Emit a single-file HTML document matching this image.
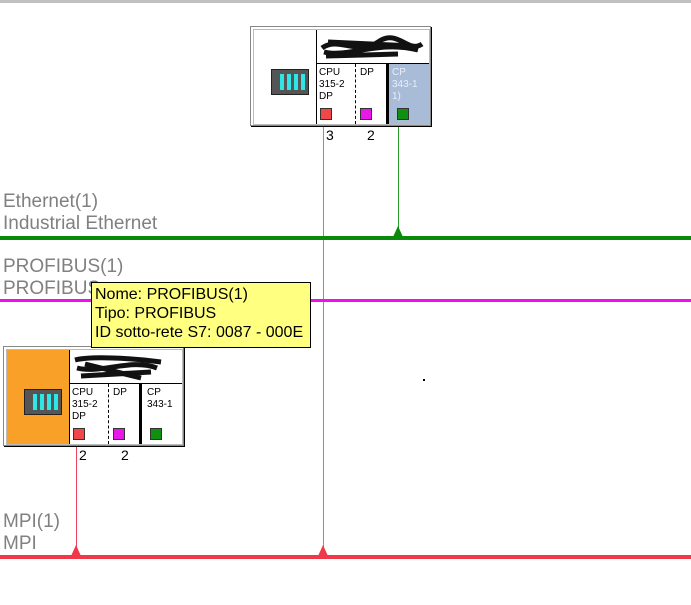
<!DOCTYPE html>
<html><head><meta charset="utf-8"><style>
body{margin:0;width:691px;height:605px;position:relative;background:#fff;overflow:hidden;font-family:"Liberation Sans",sans-serif}
.a{position:absolute}
.lbl{position:absolute;color:#808080;font-size:19px;line-height:22px}
.st{position:absolute;width:179px;height:98px;border:1px solid #888;background:#fff;box-shadow:1px 1px 0 #000}
.st .in{position:absolute;left:2px;top:2px;width:175px;height:94px;border:1px solid #bbb}
.mod{position:absolute;font-size:10px;line-height:12px;color:#000}
.sq{position:absolute;width:10px;height:10px;border:1px solid #333}
.rack{position:absolute;width:36px;height:24px;background:#555;border:1px solid #222}
.rack i{position:absolute;top:4px;width:4px;height:16px;background:#2ee6e6}
.num{position:absolute;font-size:14px;color:#000}
</style></head><body>
<div class="a" style="left:0;top:0;width:691px;height:3px;background:#c0c0c0"></div>

<div class="a" style="left:323px;top:126px;width:1px;height:430px;background:#f06080"></div>
<div class="a" style="left:398px;top:126px;width:1px;height:111px;background:#2a9a2a"></div>
<div class="a" style="left:76px;top:446px;width:1px;height:110px;background:#f04060"></div>

<div class="a" style="left:0;top:236px;width:691px;height:4px;background:#0a8a0a"></div>
<div class="a" style="left:0;top:299px;width:691px;height:3px;background:#ee10ee"></div>
<div class="a" style="left:0;top:555px;width:691px;height:4px;background:#f03848"></div>
<svg class="a" style="left:0;top:0" width="691" height="605">
<polygon points="393,237 398,226 403,237" fill="#0a8a0a"/>
<polygon points="318,556 323,545 328,556" fill="#f03848"/>
<polygon points="71,556 76,545 81,556" fill="#f03848"/>
</svg>

<div class="lbl" style="left:3px;top:191px">Ethernet(1)<br>Industrial Ethernet</div>
<div class="lbl" style="left:3px;top:256px">PROFIBUS(1)<br>PROFIBUS</div>
<div class="lbl" style="left:3px;top:511px">MPI(1)<br>MPI</div>

<div class="st" style="left:250px;top:26px"><div class="in">
  <div class="a" style="left:62px;top:0;width:1px;height:94px;background:#000"></div>
  <div class="a" style="left:62px;top:33px;width:113px;height:1px;background:#000"></div>
  <svg class="a" style="left:64px;top:4px" width="110" height="28"><path d="M4,14 C20,2 40,22 60,8 S90,20 104,10 M6,18 C30,24 60,6 100,16 M10,8 L95,12 M8,22 L80,20" stroke="#111" stroke-width="5" fill="none"/></svg>
  <div class="rack" style="left:17px;top:39px"><i style="left:8px"></i><i style="left:15px"></i><i style="left:22px"></i><i style="left:29px"></i></div>
  <div class="mod" style="left:65px;top:37px">CPU<br>315-2<br>DP</div>
  <div class="a" style="left:101px;top:34px;height:60px;border-left:1px dashed #000"></div>
  <div class="mod" style="left:106px;top:37px">DP</div>
  <div class="a" style="left:132px;top:34px;width:3px;height:60px;background:#000"></div>
  <div class="a" style="left:135px;top:34px;width:40px;height:60px;background:#a8bcd8"></div>
  <div class="mod" style="left:138px;top:37px;color:#e8eef8">CP<br>343-1<br>1)</div>
  <div class="sq" style="left:66px;top:78px;background:#f04848"></div>
  <div class="sq" style="left:106px;top:78px;background:#e818e8"></div>
  <div class="sq" style="left:143px;top:78px;background:#109010"></div>
</div></div>
<div class="num" style="left:326px;top:127px">3</div>
<div class="num" style="left:367px;top:127px">2</div>

<div class="st" style="left:3px;top:346px"><div class="in">
  <div class="a" style="left:0;top:0;width:62px;height:94px;background:#f8a028"></div>
  <div class="a" style="left:62px;top:0;width:1px;height:94px;background:#000"></div>
  <div class="a" style="left:62px;top:33px;width:113px;height:1px;background:#000"></div>
  <svg class="a" style="left:64px;top:4px" width="110" height="28"><path d="M4,6 C20,2 60,4 90,8 M6,14 C30,20 60,4 86,14 M10,22 L80,18 M14,10 L70,24" stroke="#111" stroke-width="5" fill="none"/></svg>
  <div class="rack" style="left:17px;top:39px"><i style="left:8px"></i><i style="left:15px"></i><i style="left:22px"></i><i style="left:29px"></i></div>
  <div class="mod" style="left:65px;top:37px">CPU<br>315-2<br>DP</div>
  <div class="a" style="left:101px;top:34px;height:60px;border-left:1px dashed #000"></div>
  <div class="mod" style="left:106px;top:37px">DP</div>
  <div class="a" style="left:132px;top:34px;width:3px;height:60px;background:#000"></div>
  <div class="mod" style="left:140px;top:37px">CP<br>343-1</div>
  <div class="sq" style="left:66px;top:78px;background:#f04848"></div>
  <div class="sq" style="left:106px;top:78px;background:#e818e8"></div>
  <div class="sq" style="left:143px;top:78px;background:#109010"></div>
</div></div>
<div class="num" style="left:79px;top:447px">2</div>
<div class="num" style="left:121px;top:447px">2</div>

<div class="a" style="left:423px;top:379px;width:2px;height:2px;background:#000"></div>

<div class="a" style="left:91px;top:282px;width:215px;height:62px;background:#ffff80;border:1px solid #000;font-size:16px;line-height:19px;padding:2px 0 0 3px;color:#000;white-space:nowrap">Nome: PROFIBUS(1)<br>Tipo: PROFIBUS<br>ID sotto-rete S7: 0087 - 000E</div>
</body></html>
